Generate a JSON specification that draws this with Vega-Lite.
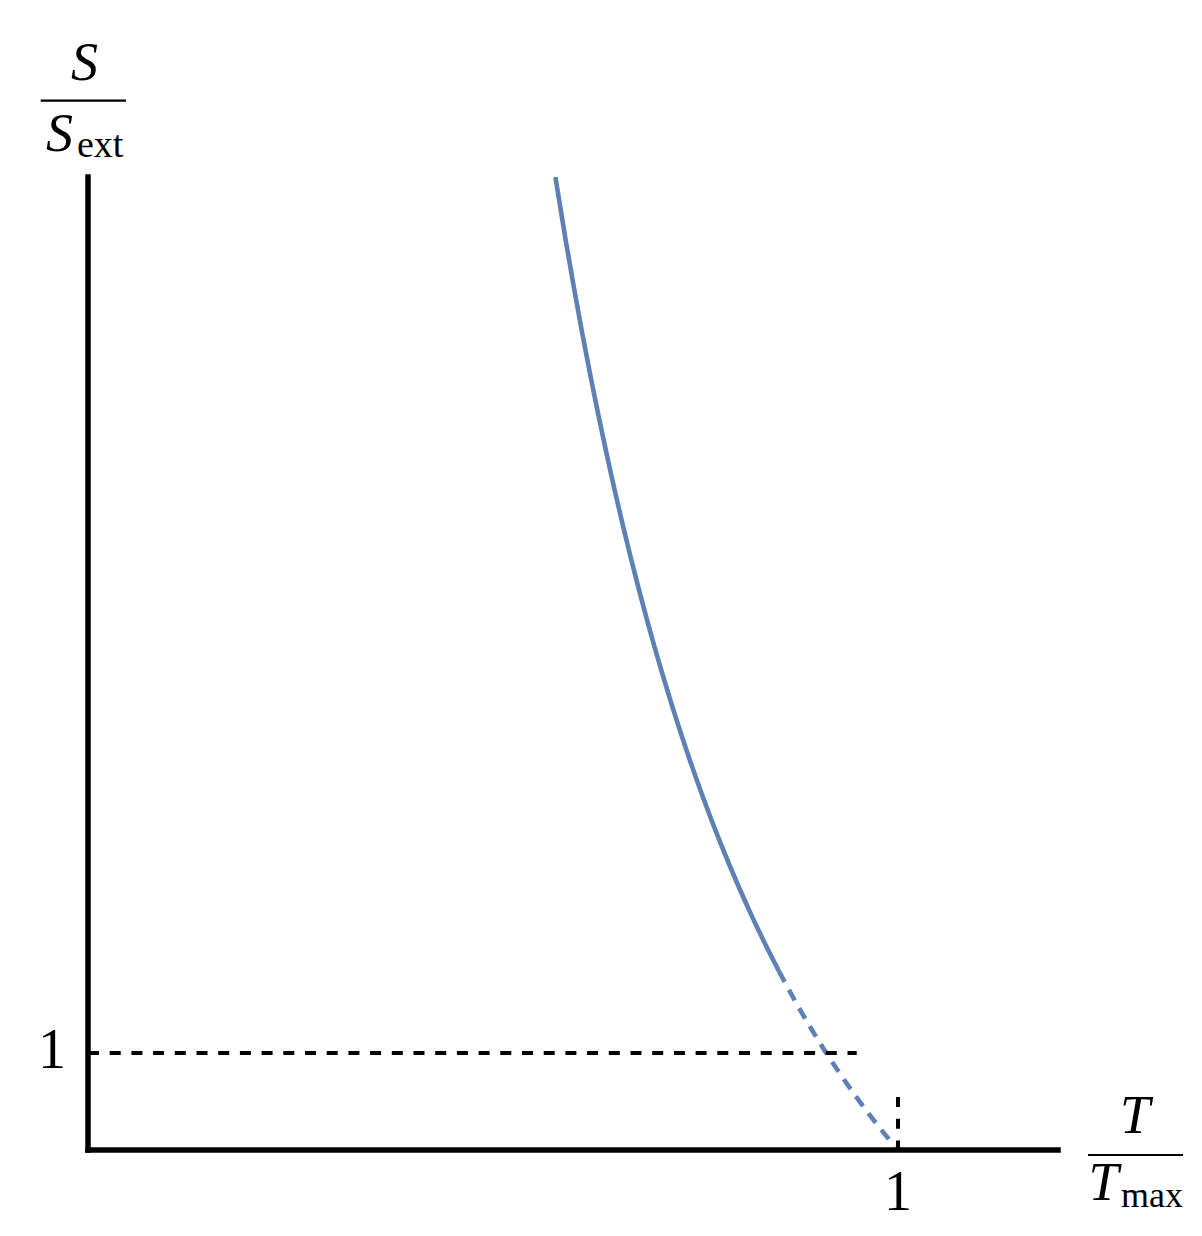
{
  "$schema": "https://vega.github.io/schema/vega-lite/v6.json",
  "width": 970,
  "height": 973,
  "autosize": {"type": "none"},
  "padding": {"left": 88, "top": 177, "right": 144, "bottom": 86},
  "background": "white",
  "config": {"view": {"stroke": null}},
  "datasets": {
    "curve": [
      {"t": 0.577, "s": 10.03, "seg": "solid"},
      {"t": 0.59, "s": 9.365, "seg": "solid"},
      {"t": 0.60, "s": 8.884, "seg": "solid"},
      {"t": 0.61, "s": 8.426, "seg": "solid"},
      {"t": 0.62, "s": 7.993, "seg": "solid"},
      {"t": 0.63, "s": 7.579, "seg": "solid"},
      {"t": 0.64, "s": 7.184, "seg": "solid"},
      {"t": 0.65, "s": 6.809, "seg": "solid"},
      {"t": 0.66, "s": 6.450, "seg": "solid"},
      {"t": 0.67, "s": 6.108, "seg": "solid"},
      {"t": 0.68, "s": 5.781, "seg": "solid"},
      {"t": 0.69, "s": 5.468, "seg": "solid"},
      {"t": 0.70, "s": 5.168, "seg": "solid"},
      {"t": 0.72, "s": 4.608, "seg": "solid"},
      {"t": 0.74, "s": 4.093, "seg": "solid"},
      {"t": 0.76, "s": 3.619, "seg": "solid"},
      {"t": 0.78, "s": 3.182, "seg": "solid"},
      {"t": 0.80, "s": 2.778, "seg": "solid"},
      {"t": 0.82, "s": 2.403, "seg": "solid"},
      {"t": 0.84, "s": 2.056, "seg": "solid"},
      {"t": 0.853, "s": 1.843, "seg": "solid"},
      {"t": 0.853, "s": 1.843, "seg": "dashed"},
      {"t": 0.87, "s": 1.580, "seg": "dashed"},
      {"t": 0.89, "s": 1.290, "seg": "dashed"},
      {"t": 0.91, "s": 1.019, "seg": "dashed"},
      {"t": 0.93, "s": 0.766, "seg": "dashed"},
      {"t": 0.95, "s": 0.529, "seg": "dashed"},
      {"t": 0.97, "s": 0.307, "seg": "dashed"},
      {"t": 0.99, "s": 0.099, "seg": "dashed"},
      {"t": 0.996, "s": 0.039, "seg": "dashed"}
    ]
  },
  "layer": [
    {
      "data": {"name": "curve"},
      "transform": [{"filter": "datum.seg == 'solid'"}],
      "mark": {"type": "line", "color": "#5E81B5", "strokeWidth": 4.6, "interpolate": "monotone"},
      "encoding": {
        "x": {"field": "t", "type": "quantitative", "scale": {"domain": [0, 1.1975], "nice": false, "zero": false}, "axis": null},
        "y": {"field": "s", "type": "quantitative", "scale": {"domain": [0, 10.03], "nice": false, "zero": false}, "axis": null}
      }
    },
    {
      "data": {"name": "curve"},
      "transform": [{"filter": "datum.seg == 'dashed'"}],
      "mark": {"type": "line", "color": "#5E81B5", "strokeWidth": 4.6, "strokeDash": [12, 9], "interpolate": "monotone"},
      "encoding": {
        "x": {"field": "t", "type": "quantitative", "scale": {"domain": [0, 1.1975], "nice": false, "zero": false}, "axis": null},
        "y": {"field": "s", "type": "quantitative", "scale": {"domain": [0, 10.03], "nice": false, "zero": false}, "axis": null}
      }
    },
    {
      "data": {"values": [{"level": 1}]},
      "mark": {"type": "rule", "color": "black", "strokeWidth": 4, "strokeDash": [11, 10.7]},
      "encoding": {
        "x": {"datum": 0, "type": "quantitative", "scale": {"domain": [0, 1.1975], "nice": false, "zero": false}, "axis": null},
        "x2": {"datum": 0.949},
        "y": {"field": "level", "type": "quantitative", "scale": {"domain": [0, 10.03], "nice": false, "zero": false}, "axis": null}
      }
    },
    {
      "data": {"values": [{"level": 1}]},
      "mark": {"type": "rule", "color": "black", "strokeWidth": 4, "strokeDash": [10, 11.7]},
      "encoding": {
        "x": {"field": "level", "type": "quantitative", "scale": {"domain": [0, 1.1975], "nice": false, "zero": false}, "axis": null},
        "y": {"datum": 0.546, "type": "quantitative", "scale": {"domain": [0, 10.03], "nice": false, "zero": false}, "axis": null},
        "y2": {"datum": 0}
      }
    },
    {
      "data": {"values": [{"axis": "x"}]},
      "mark": {"type": "rule", "color": "black", "strokeWidth": 5.5, "strokeCap": "square"},
      "encoding": {
        "x": {"datum": 0, "type": "quantitative", "scale": {"domain": [0, 1.1975], "nice": false, "zero": false}, "axis": null},
        "x2": {"datum": 1.1975},
        "y": {"datum": 0, "type": "quantitative", "scale": {"domain": [0, 10.03], "nice": false, "zero": false}, "axis": null}
      }
    },
    {
      "data": {"values": [{"axis": "y"}]},
      "mark": {"type": "rule", "color": "black", "strokeWidth": 5.5, "strokeCap": "square"},
      "encoding": {
        "x": {"datum": 0, "type": "quantitative", "scale": {"domain": [0, 1.1975], "nice": false, "zero": false}, "axis": null},
        "y": {"datum": 0, "type": "quantitative", "scale": {"domain": [0, 10.03], "nice": false, "zero": false}, "axis": null},
        "y2": {"datum": 10.03}
      }
    },
    {
      "data": {"values": [{"label": "1"}]},
      "mark": {"type": "text", "font": "Liberation Serif", "fontSize": 56, "align": "center", "baseline": "alphabetic", "color": "black"},
      "encoding": {
        "x": {"datum": 1, "type": "quantitative", "scale": {"domain": [0, 1.1975], "nice": false, "zero": false}, "axis": null},
        "y": {"datum": -0.619, "type": "quantitative", "scale": {"domain": [0, 10.03], "nice": false, "zero": false}, "axis": null},
        "text": {"field": "label"}
      }
    },
    {
      "data": {"values": [{"label": "1"}]},
      "mark": {"type": "text", "font": "Liberation Serif", "fontSize": 56, "align": "right", "baseline": "alphabetic", "color": "black"},
      "encoding": {
        "x": {"datum": -0.0272, "type": "quantitative", "scale": {"domain": [0, 1.1975], "nice": false, "zero": false}, "axis": null},
        "y": {"datum": 0.845, "type": "quantitative", "scale": {"domain": [0, 10.03], "nice": false, "zero": false}, "axis": null},
        "text": {"field": "label"}
      }
    },
    {
      "data": {"values": [{"label": "S"}]},
      "mark": {"type": "text", "font": "Liberation Serif", "fontStyle": "italic", "fontSize": 54, "align": "center", "baseline": "alphabetic", "color": "black"},
      "encoding": {
        "x": {"datum": -0.0043, "type": "quantitative", "scale": {"domain": [0, 1.1975], "nice": false, "zero": false}, "axis": null},
        "y": {"datum": 11.031, "type": "quantitative", "scale": {"domain": [0, 10.03], "nice": false, "zero": false}, "axis": null},
        "text": {"field": "label"}
      }
    },
    {
      "data": {"values": [{"label": "S"}]},
      "mark": {"type": "text", "font": "Liberation Serif", "fontStyle": "italic", "fontSize": 54, "align": "center", "baseline": "alphabetic", "color": "black"},
      "encoding": {
        "x": {"datum": -0.0352, "type": "quantitative", "scale": {"domain": [0, 1.1975], "nice": false, "zero": false}, "axis": null},
        "y": {"datum": 10.299, "type": "quantitative", "scale": {"domain": [0, 10.03], "nice": false, "zero": false}, "axis": null},
        "text": {"field": "label"}
      }
    },
    {
      "data": {"values": [{"label": "ext"}]},
      "mark": {"type": "text", "font": "Liberation Serif", "fontSize": 38, "align": "left", "baseline": "alphabetic", "color": "black"},
      "encoding": {
        "x": {"datum": -0.0136, "type": "quantitative", "scale": {"domain": [0, 1.1975], "nice": false, "zero": false}, "axis": null},
        "y": {"datum": 10.237, "type": "quantitative", "scale": {"domain": [0, 10.03], "nice": false, "zero": false}, "axis": null},
        "text": {"field": "label"}
      }
    },
    {
      "data": {"values": [{"part": "bar"}]},
      "mark": {"type": "rule", "color": "black", "strokeWidth": 2.2},
      "encoding": {
        "x": {"datum": -0.0584, "type": "quantitative", "scale": {"domain": [0, 1.1975], "nice": false, "zero": false}, "axis": null},
        "x2": {"datum": 0.0469},
        "y": {"datum": 10.817, "type": "quantitative", "scale": {"domain": [0, 10.03], "nice": false, "zero": false}, "axis": null}
      }
    },
    {
      "data": {"values": [{"label": "T"}]},
      "mark": {"type": "text", "font": "Liberation Serif", "fontStyle": "italic", "fontSize": 54, "align": "center", "baseline": "alphabetic", "color": "black"},
      "encoding": {
        "x": {"datum": 1.2926, "type": "quantitative", "scale": {"domain": [0, 1.1975], "nice": false, "zero": false}, "axis": null},
        "y": {"datum": 0.175, "type": "quantitative", "scale": {"domain": [0, 10.03], "nice": false, "zero": false}, "axis": null},
        "text": {"field": "label"}
      }
    },
    {
      "data": {"values": [{"label": "T"}]},
      "mark": {"type": "text", "font": "Liberation Serif", "fontStyle": "italic", "fontSize": 54, "align": "center", "baseline": "alphabetic", "color": "black"},
      "encoding": {
        "x": {"datum": 1.2537, "type": "quantitative", "scale": {"domain": [0, 1.1975], "nice": false, "zero": false}, "axis": null},
        "y": {"datum": -0.515, "type": "quantitative", "scale": {"domain": [0, 10.03], "nice": false, "zero": false}, "axis": null},
        "text": {"field": "label"}
      }
    },
    {
      "data": {"values": [{"label": "max"}]},
      "mark": {"type": "text", "font": "Liberation Serif", "fontSize": 36, "align": "left", "baseline": "alphabetic", "color": "black"},
      "encoding": {
        "x": {"datum": 1.2753, "type": "quantitative", "scale": {"domain": [0, 1.1975], "nice": false, "zero": false}, "axis": null},
        "y": {"datum": -0.588, "type": "quantitative", "scale": {"domain": [0, 10.03], "nice": false, "zero": false}, "axis": null},
        "text": {"field": "label"}
      }
    },
    {
      "data": {"values": [{"part": "bar"}]},
      "mark": {"type": "rule", "color": "black", "strokeWidth": 2.2},
      "encoding": {
        "x": {"datum": 1.2346, "type": "quantitative", "scale": {"domain": [0, 1.1975], "nice": false, "zero": false}, "axis": null},
        "x2": {"datum": 1.3519},
        "y": {"datum": -0.0515, "type": "quantitative", "scale": {"domain": [0, 10.03], "nice": false, "zero": false}, "axis": null}
      }
    }
  ]
}
